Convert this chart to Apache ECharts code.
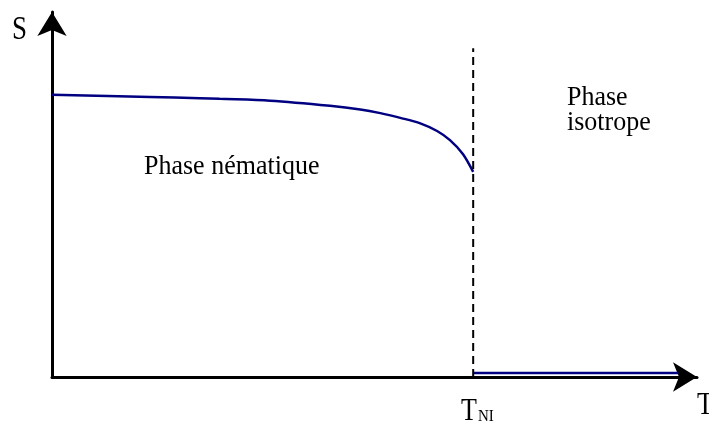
<!DOCTYPE html>
<html>
<head>
<meta charset="utf-8">
<script src="https://cdn.jsdelivr.net/npm/echarts@6/dist/echarts.min.js"></script>
<style>
html,body{margin:0;padding:0;background:#fff;}
#chart{width:709px;height:423px;}
</style>
</head>
<body>
<div id="chart"></div>
<script>
// Order parameter S vs temperature T (arbitrary units)
const nematicT = [0, 15.2, 22.9, 26.0, 33.8, 43.1, 47.8, 50.9, 54.0, 57.1, 59.7, 61.7, 63.7, 65.3];
const nematicS = [0.773, 0.767, 0.764, 0.762, 0.757, 0.743, 0.733, 0.723, 0.710, 0.695, 0.674, 0.649, 0.611, 0.562];
const isotropeT = [65.3, 97.1];
const isotropeS = [0.011, 0.011];
const T_NI = 65.3;
const transitionS = [0, 0.901];
const labels = { yAxis: 'S', xAxis: 'T', tni: 'T', tniSub: 'NI', nematic: 'Phase nématique', iso1: 'Phase', iso2: 'isotrope' };

const serif = "'Liberation Serif','Times New Roman',serif";
const chart = echarts.init(document.getElementById('chart'));

const axisCommon = {
  type: 'value',
  axisLine: { show: true, onZero: false, symbol: ['none', 'arrow'], symbolSize: [22, 24], lineStyle: { color: '#000', width: 3 } },
  axisTick: { show: false },
  axisLabel: { show: false },
  splitLine: { show: false }
};

function txt(text, x, y, size, sy) {
  return { type: 'text', x: x, y: y, scaleY: sy, style: { text: text, font: size + 'px ' + serif, fill: '#000', verticalAlign: 'middle', align: 'left' } };
}

chart.setOption({
  animation: false,
  grid: { left: 52, right: 12, top: 12, bottom: 46 },
  xAxis: Object.assign({}, axisCommon, { min: 0, max: 100 }),
  yAxis: Object.assign({}, axisCommon, { min: 0, max: 1 }),
  series: [
    {
      type: 'line', smooth: 0.3, symbol: 'none',
      data: nematicT.map((t, i) => [t, nematicS[i]]),
      lineStyle: { color: '#000080', width: 2.5 }
    },
    {
      type: 'line', symbol: 'none',
      data: isotropeT.map((t, i) => [t, isotropeS[i]]),
      lineStyle: { color: '#000080', width: 2.5 }
    },
    {
      type: 'line', symbol: 'none',
      data: transitionS.map(s => [T_NI, s]),
      lineStyle: { color: '#000', width: 2, type: [8, 5] }
    }
  ],
  graphic: [
    txt(labels.yAxis, 12, 30.5, 27, 1.25),
    txt(labels.xAxis, 697, 405, 27, 1.2),
    txt(labels.tni, 461, 411.5, 26, 1.2),
    txt(labels.tniSub, 478, 416.5, 15, 1.1),
    txt(labels.nematic, 144, 166.5, 26, 1.05),
    txt(labels.iso1, 567, 98, 26, 1.05),
    txt(labels.iso2, 567, 123, 26, 1.05)
  ]
});
</script>
</body>
</html>
